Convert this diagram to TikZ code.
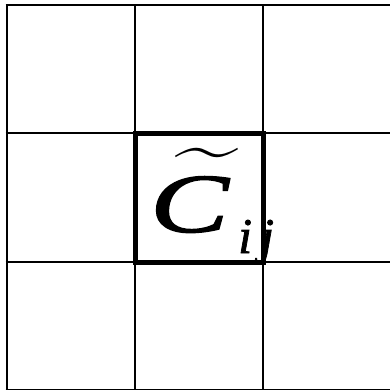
\documentclass[tikz,border=0pt]{standalone}
\usepackage{fontspec}
\setmainfont{Liberation Serif}
\usepackage{graphicx}
\tikzset{
  gridline/.style={line width=2pt, black},
  thickbox/.style={line width=5pt, black, line join=miter},
  bigletter/.style={inner sep=0pt, anchor=base west, font=\fontsize{84}{84}\selectfont\itshape\addfontfeatures{FakeBold=1.5}},
  subletter/.style={inner sep=0pt, anchor=base west, font=\fontsize{50}{50}\selectfont\itshape\addfontfeatures{FakeBold=1.5}},
}
\newcommand{\bigtildeglyph}{\raisebox{27.5pt}{\scalebox{6.3}[7.5]{\normalsize$\mathchar"0366$}}}
\begin{document}
\begin{tikzpicture}[x=1pt,y=-1pt]
\useasboundingbox (0,0) rectangle (390,390);
% grid
\foreach \x in {6.5,134.5,262.5} \draw[gridline] (\x,5.5) -- (\x,392);
\foreach \y in {5.5,133.5,261.5,389.5} \draw[gridline] (5.5,\y) -- (392,\y);
% highlighted cell
\draw[thickbox] (135,134) rectangle (263,262);
% label: C with wide tilde, and subscript ij
\node[bigletter] (C) at (150,232) {\scalebox{1.4}[1]{C}\llap{\makebox[0pt]{\bigtildeglyph}\kern22pt}};
\node[subletter] (ij) at (238,253) {i\kern8pt j};
\end{tikzpicture}
\end{document}
